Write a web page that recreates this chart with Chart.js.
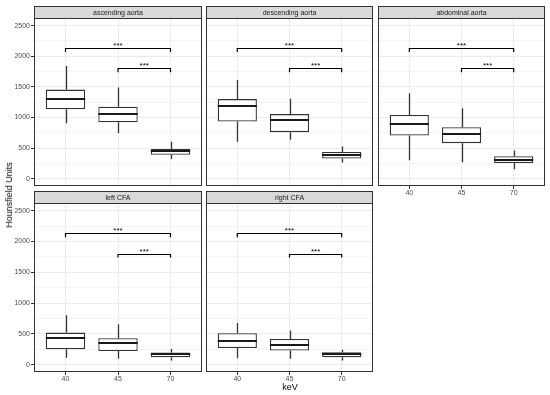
<!DOCTYPE html>
<html>
<head>
<meta charset="utf-8">
<script src="https://cdn.jsdelivr.net/npm/chart.js@4.4.0/dist/chart.umd.min.js"></script>
<style>
  body { margin: 0; background: #fff; }
  #wrap { position: relative; width: 550px; height: 395px; overflow: hidden; font-family: "Liberation Sans", Arial, sans-serif; }
  canvas { position: absolute; }
  .strip { position: absolute; box-sizing: border-box; background: #d9d9d9; border: 1px solid #333; color: #1a1a1a; font-size: 7px; display: flex; align-items: center; justify-content: center; z-index: 2; will-change: transform; }
  .title { position: absolute; color: #000; font-size: 9px; white-space: nowrap; will-change: transform; }
</style>
</head>
<body>
<div id="wrap"></div>
<script>
const kev = ['40', '45', '70'];
const panelNames = ['ascending aorta', 'descending aorta', 'abdominal aorta', 'left CFA', 'right CFA'];

// one row per keV: [lower whisker, Q1, median, Q3, upper whisker]
const ascendingAorta = [[905, 1135, 1295, 1455, 1840], [745, 920, 1055, 1175, 1490], [320, 390, 445, 485, 605]];
const descendingAorta = [[605, 935, 1180, 1300, 1610], [635, 760, 960, 1055, 1305], [265, 330, 390, 435, 525]];
const abdominalAorta = [[300, 705, 895, 1040, 1395], [270, 580, 730, 840, 1150], [155, 255, 310, 365, 460]];
const leftCFA = [[110, 250, 435, 520, 800], [95, 220, 355, 430, 655], [65, 120, 170, 195, 255]];
const rightCFA = [[105, 270, 390, 510, 675], [95, 230, 325, 415, 555], [65, 120, 165, 200, 240]];

const yTicks = [0, 500, 1000, 1500, 2000, 2500];
const yMinorTicks = [250, 750, 1250, 1750, 2250];

// significance brackets
const bracketFrom = ['40', '45'];
const bracketTo = ['70', '70'];
const bracketY = [2130, 1800];
const bracketLabel = ['***', '***'];

const panelStats = [ascendingAorta, descendingAorta, abdominalAorta, leftCFA, rightCFA];

const FONT = '"Liberation Sans", Arial, sans-serif';
const cols = [[34, 202], [206, 373], [378, 545]];
const rows = [{ strip: 6, top: 18, bottom: 186 }, { strip: 191, top: 203, bottom: 372 }];
const wrap = document.getElementById('wrap');

function boxExtras(stats) {
  return {
    id: 'boxExtras',
    afterDatasetsDraw(chart) {
      const ctx = chart.ctx;
      const xs = chart.scales.x, ys = chart.scales.y;
      const bars = chart.getDatasetMeta(0).data;
      ctx.save();
      stats.forEach((s, i) => {
        const bar = bars[i];
        const cx = Math.round(bar.x) + 0.5;
        const half = bar.width / 2;
        ctx.strokeStyle = '#333';
        ctx.lineWidth = 1.3;
        ctx.beginPath();
        ctx.moveTo(cx, ys.getPixelForValue(s[0]));
        ctx.lineTo(cx, ys.getPixelForValue(s[1]));
        ctx.moveTo(cx, ys.getPixelForValue(s[3]));
        ctx.lineTo(cx, ys.getPixelForValue(s[4]));
        ctx.stroke();
        ctx.strokeStyle = '#1a1a1a';
        ctx.lineWidth = 2;
        const my = Math.round(ys.getPixelForValue(s[2]));
        ctx.beginPath();
        ctx.moveTo(bar.x - half, my);
        ctx.lineTo(bar.x + half, my);
        ctx.stroke();
      });

      // brackets
      const tip = 62;
      ctx.strokeStyle = '#000';
      ctx.lineWidth = 1.2;
      ctx.fillStyle = '#000';
      ctx.font = '8px ' + FONT;
      ctx.textAlign = 'center';
      ctx.textBaseline = 'alphabetic';
      bracketY.forEach((v, k) => {
        const x1 = xs.getPixelForValue(kev.indexOf(bracketFrom[k]) + 1);
        const x2 = xs.getPixelForValue(kev.indexOf(bracketTo[k]) + 1);
        const yTop = Math.round(ys.getPixelForValue(v)) + 0.5;
        const yLow = ys.getPixelForValue(v - tip);
        ctx.beginPath();
        ctx.moveTo(x1, yLow);
        ctx.lineTo(x1, yTop);
        ctx.lineTo(x2, yTop);
        ctx.lineTo(x2, yLow);
        ctx.stroke();
        ctx.fillText(bracketLabel[k], (x1 + x2) / 2, yTop - 1);
      });
      ctx.restore();
    },
    afterDraw(chart) {
      const a = chart.chartArea, ctx = chart.ctx;
      ctx.save();
      ctx.strokeStyle = '#333';
      ctx.lineWidth = 1;
      ctx.strokeRect(a.left + 0.5, a.top + 0.5, a.right - a.left - 1, a.bottom - a.top - 1);
      ctx.restore();
    }
  };
}

function noPad(axis) {
  axis.paddingTop = 0;
  axis.paddingBottom = 0;
  axis.paddingLeft = 0;
  axis.paddingRight = 0;
}

panelStats.forEach((stats, p) => {
  const c = p % 3, r = Math.floor(p / 3);
  const [left, right] = cols[c];
  const row = rows[r];
  const showY = c === 0;
  const showX = r === 1 || p === 2;

  const strip = document.createElement('div');
  strip.className = 'strip';
  strip.textContent = panelNames[p];
  strip.style.left = left + 'px';
  strip.style.top = row.strip + 'px';
  strip.style.width = (right - left) + 'px';
  strip.style.height = (row.top - row.strip + 1) + 'px';
  wrap.appendChild(strip);

  const extra = showX ? 13 : 1;
  const cLeft = showY ? 0 : left - 1;
  const cTop = row.top - 1;
  const canvas = document.createElement('canvas');
  canvas.width = right + 1 - cLeft;
  canvas.height = row.bottom + extra - cTop;
  canvas.style.left = cLeft + 'px';
  canvas.style.top = cTop + 'px';
  wrap.appendChild(canvas);

  new Chart(canvas.getContext('2d'), {
    type: 'bar',
    data: {
      datasets: [{
        data: stats.map((s, i) => ({ x: i + 1, y: [s[1], s[3]] })),
        backgroundColor: '#ffffff',
        borderColor: '#333333',
        borderWidth: 1.3,
        borderSkipped: false,
        categoryPercentage: 1,
        barPercentage: 0.75
      }]
    },
    options: {
      responsive: false,
      animation: false,
      layout: { padding: { left: showY ? 0 : 1, top: 1, right: 1, bottom: 0 } },
      plugins: { legend: { display: false }, tooltip: { enabled: false } },
      scales: {
        x: {
          type: 'linear',
          min: 0.4,
          max: 3.6,
          offset: false,
          afterBuildTicks: axis => { axis.ticks = kev.map((k, i) => ({ value: i + 1 })); },
          afterFit: axis => { axis.height = extra; noPad(axis); },
          border: { display: false },
          grid: { offset: false, color: '#ebebeb', lineWidth: 1, drawTicks: showX, tickLength: 3, tickColor: '#333', tickWidth: 1 },
          ticks: {
            display: showX,
            autoSkip: false,
            maxRotation: 0,
            padding: 0,
            color: '#4d4d4d',
            font: { family: FONT, size: 7 },
            callback: v => kev[Math.round(v) - 1]
          }
        },
        y: {
          min: -120,
          max: 2625,
          afterBuildTicks: axis => {
            axis.ticks = yTicks.concat(yMinorTicks).sort((a, b) => a - b).map(v => ({ value: v }));
          },
          afterFit: axis => { axis.width = showY ? 34 : 0; noPad(axis); },
          border: { display: false },
          grid: {
            color: ctx => yTicks.includes(ctx.tick.value) ? '#ebebeb' : '#f4f4f4',
            lineWidth: 1,
            drawTicks: showY,
            tickLength: 3,
            tickWidth: 1,
            tickColor: ctx => yTicks.includes(ctx.tick.value) ? '#333' : 'rgba(0,0,0,0)'
          },
          ticks: {
            display: showY,
            autoSkip: false,
            padding: 1,
            color: '#4d4d4d',
            font: { family: FONT, size: 7 },
            callback: v => yTicks.includes(v) ? String(v) : ''
          }
        }
      }
    },
    plugins: [boxExtras(stats)]
  });
});

const xTitle = document.createElement('div');
xTitle.className = 'title';
xTitle.textContent = 'keV';
xTitle.style.left = '290px';
xTitle.style.top = '387px';
xTitle.style.transform = 'translate(-50%, -50%)';
wrap.appendChild(xTitle);

const yTitle = document.createElement('div');
yTitle.className = 'title';
yTitle.textContent = 'Hounsfield Units';
yTitle.style.left = '8.5px';
yTitle.style.top = '195px';
yTitle.style.transform = 'translate(-50%, -50%) rotate(-90deg)';
wrap.appendChild(yTitle);
</script>
</body>
</html>
